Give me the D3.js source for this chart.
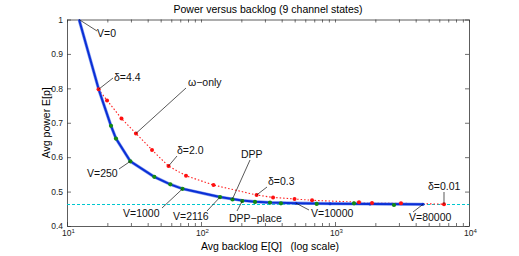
<!DOCTYPE html>
<html>
<head>
<meta charset="utf-8">
<script src="https://cdn.jsdelivr.net/npm/d3@7"></script>
<style>
  body { margin: 0; background: #fff; }
  svg { font-family: "Liberation Sans", Arial, Helvetica, sans-serif; }
</style>
</head>
<body>
<div id="chart"></div>
<script>
// DPP curve (blue line)
const dppQ = [12.3, 17.3, 21.3, 23.2, 29.7, 44.8, 59.0, 72.8, 138.7, 171.8, 203.3, 252.9, 327.3, 511.7, 918, 1825, 4535];
const dppP = [1.0, 0.795, 0.691, 0.654, 0.588, 0.543, 0.521, 0.508, 0.484, 0.4785, 0.474, 0.4706, 0.468, 0.4663, 0.465, 0.464, 0.463];

// DPP-place (green markers)
const placeQ = [21.3, 23.2, 29.7, 44.8, 59.0, 72.8, 138.7, 171.8, 203.3, 252.9, 327.3, 395, 730, 1386, 2755];
const placeP = [0.691, 0.654, 0.588, 0.543, 0.521, 0.508, 0.484, 0.477, 0.4727, 0.470, 0.468, 0.466, 0.464, 0.466, 0.461];

// omega-only (red dotted)
const omegaQ = [17.2, 19.9, 25.5, 32.7, 43.1, 57.2, 77.3, 124, 260, 345, 499, 674, 1510, 1889, 3108, 6507];
const omegaP = [0.797, 0.765, 0.7125, 0.669, 0.621, 0.574, 0.546, 0.519, 0.490, 0.483, 0.4785, 0.4747, 0.469, 0.467, 0.466, 0.4635];

// minimum average power (cyan dashed)
const minPower = 0.4625;

const yTicks = [0.4, 0.5, 0.6, 0.7, 0.8, 0.9, 1];
const xMajor = [10, 100, 1000, 10000];

const width = 519, height = 256;
const svg = d3.select('#chart').append('svg')
    .attr('width', width)
    .attr('height', height);

const x = d3.scaleLog().domain([10, 10000]).range([67, 469]);
const y = d3.scaleLinear().domain([0.4, 1]).range([226, 19.5]);

// minor + major ticks for log axis
const xTicks = [];
xMajor.forEach((m, i) => {
    xTicks.push(m);
    if (i < xMajor.length - 1) for (let k = 2; k <= 9; k++) xTicks.push(m * k);
});

const axisColor = '#333';

// bottom axis
const gx = svg.append('g')
    .attr('transform', `translate(0,${y(0.4)})`)
    .call(d3.axisBottom(x).tickValues(xTicks).tickSizeInner(-3).tickSizeOuter(0).tickPadding(2).tickFormat(() => ''));
gx.selectAll('.tick line').attr('y2', d => xMajor.includes(d) ? -4 : -3);
gx.selectAll('.tick text').each(function (d) {
    if (!xMajor.includes(d)) return;
    const t = d3.select(this).attr('font-size', 8.5).attr('dy', '0.95em').attr('x', 1);
    t.text('10');
    t.append('tspan').attr('dy', '-0.5em').attr('font-size', 6).text(Math.round(Math.log10(d)));
});

// top axis (ticks only)
svg.append('g')
    .attr('transform', `translate(0,${y(1)})`)
    .call(d3.axisTop(x).tickValues(xTicks).tickSizeInner(-3).tickSizeOuter(0).tickFormat(() => ''));

// left axis
svg.append('g')
    .attr('transform', `translate(${x(10)},0)`)
    .call(d3.axisLeft(y).tickValues(yTicks).tickSizeInner(-4).tickSizeOuter(0).tickPadding(4).tickFormat(d3.format('')))
    .selectAll('text').attr('font-size', 8.5);

// right axis (ticks only)
svg.append('g')
    .attr('transform', `translate(${x(10000)},0)`)
    .call(d3.axisRight(y).tickValues(yTicks).tickSizeInner(-4).tickSizeOuter(0).tickFormat(() => ''));

svg.selectAll('.domain').attr('stroke', axisColor).attr('stroke-width', 0.8);
svg.selectAll('.tick line').attr('stroke', axisColor).attr('stroke-width', 0.7);
svg.selectAll('.tick text').attr('fill', '#222');

// min power line
svg.append('line')
    .attr('x1', x(10)).attr('x2', x(10000))
    .attr('y1', y(minPower)).attr('y2', y(minPower))
    .attr('stroke', '#00c8d0').attr('stroke-width', 1.1)
    .attr('stroke-dasharray', '3,2');

// omega-only
const omega = omegaQ.map((q, i) => [q, omegaP[i]]);
const line = d3.line().x(d => x(d[0])).y(d => y(d[1]));
svg.append('path')
    .datum(omega)
    .attr('fill', 'none')
    .attr('stroke', '#ff2020')
    .attr('stroke-width', 1.1)
    .attr('stroke-dasharray', '1.5,2')
    .attr('d', line);

// DPP
const dpp = dppQ.map((q, i) => [q, dppP[i]]);
svg.append('path')
    .datum(dpp)
    .attr('fill', 'none')
    .attr('stroke', '#8aa0f0')
    .attr('stroke-width', 3.2)
    .attr('d', line);
svg.append('path')
    .datum(dpp)
    .attr('fill', 'none')
    .attr('stroke', '#0a2fd6')
    .attr('stroke-width', 2)
    .attr('d', line);

// small blue markers on tail of DPP
svg.selectAll('.bdot')
    .data(dpp.slice(9))
    .enter().append('circle')
    .attr('cx', d => x(d[0])).attr('cy', d => y(d[1]))
    .attr('r', 1.5).attr('fill', '#0a2fd6');

// DPP-place markers
const place = placeQ.map((q, i) => [q, placeP[i]]);
svg.selectAll('.gdot')
    .data(place)
    .enter().append('circle')
    .attr('cx', d => x(d[0])).attr('cy', d => y(d[1]))
    .attr('r', 2.1).attr('fill', '#138a13');

// omega markers
svg.selectAll('.rdot')
    .data(omega)
    .enter().append('circle')
    .attr('cx', d => x(d[0])).attr('cy', d => y(d[1]))
    .attr('r', 2).attr('fill', '#ff1010');

// annotations: text, target point, text position, leader start
const notes = [
    { t: 'V=0', p: dpp[0], tx: 97, ty: 37, lx: 97, ly: 31 },
    { t: 'δ=4.4', p: omega[0], tx: 114, ty: 81, lx: 113, ly: 78 },
    { t: 'ω−only', p: omega[3], tx: 188, ty: 86, lx: 186, ly: 88 },
    { t: 'δ=2.0', p: omega[5], tx: 177, ty: 154, lx: 177, ly: 156 },
    { t: 'V=250', p: dpp[4], tx: 87, ty: 177, lx: 119, ly: 169 },
    { t: 'DPP', p: dpp[9], tx: 241, ty: 158, lx: 250, ly: 160 },
    { t: 'δ=0.3', p: omega[8], tx: 268, ty: 185, lx: 267, ly: 187 },
    { t: 'V=1000', p: dpp[7], tx: 123, ty: 217, lx: 162, ly: 208 },
    { t: 'V=2116', p: dpp[8], tx: 173, ty: 220, lx: 207, ly: 211 },
    { t: 'DPP−place', p: place[8], tx: 229, ty: 222, lx: 237, ly: 211 },
    { t: 'V=10000', p: dpp[13], tx: 311, ty: 217, lx: 309, ly: 210 },
    { t: 'V=80000', p: dpp[16], tx: 409, ty: 221, lx: 413, ly: 212 },
    { t: 'δ=0.01', p: omega[15], tx: 428, ty: 190, lx: 444, ly: 192 }
];

svg.selectAll('.leader')
    .data(notes)
    .enter().append('line')
    .attr('x1', d => d.lx).attr('y1', d => d.ly)
    .attr('x2', d => x(d.p[0])).attr('y2', d => y(d.p[1]))
    .attr('stroke', '#111').attr('stroke-width', 0.7);

svg.selectAll('.note')
    .data(notes)
    .enter().append('text')
    .attr('x', d => d.tx).attr('y', d => d.ty)
    .attr('font-size', 10.5)
    .attr('fill', '#111')
    .text(d => d.t);

// titles
svg.append('text')
    .attr('x', 268).attr('y', 13)
    .attr('text-anchor', 'middle')
    .attr('font-size', 10.5)
    .text('Power versus backlog (9 channel states)');

svg.append('text')
    .attr('x', 270).attr('y', 250)
    .attr('text-anchor', 'middle')
    .attr('font-size', 10.5)
    .attr('xml:space', 'preserve')
    .style('white-space', 'pre')
    .text('Avg backlog E[Q]   (log scale)');

svg.append('text')
    .attr('transform', `translate(50,${(y(0.4) + y(1)) / 2}) rotate(-90)`)
    .attr('text-anchor', 'middle')
    .attr('font-size', 10.5)
    .text('Avg power E[p]');
</script>
</body>
</html>
